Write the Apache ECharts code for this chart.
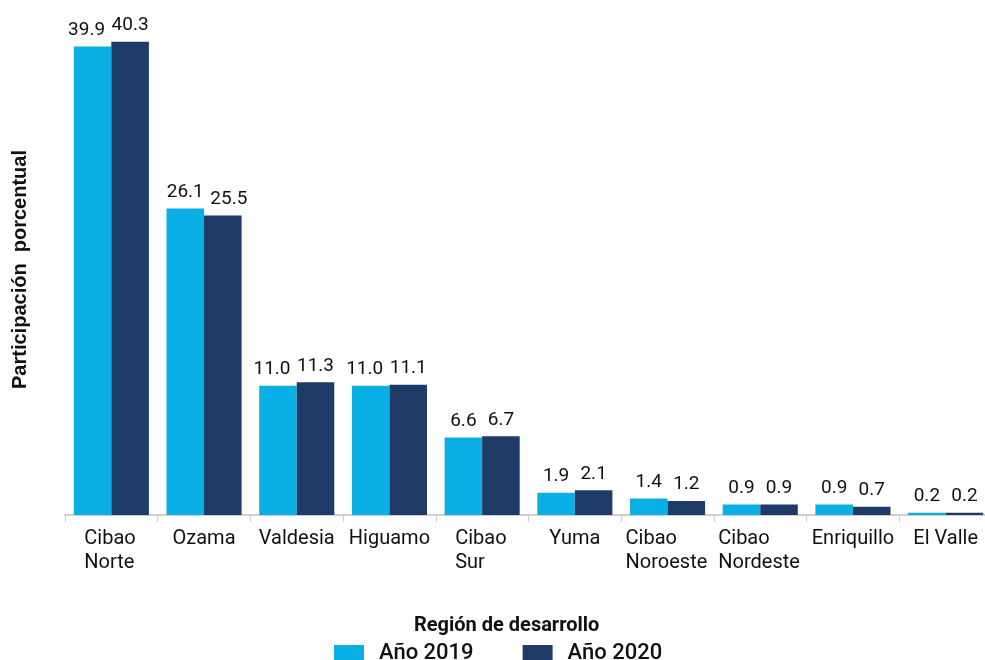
<!DOCTYPE html>
<html>
<head>
<meta charset="utf-8">
<script src="https://cdn.jsdelivr.net/npm/echarts@6/dist/echarts.min.js"></script>
<style>
  html, body { margin: 0; padding: 0; background: #fff; }
  #main { width: 985px; height: 660px; }
</style>
</head>
<body>
<div id="main"></div>
<script>
var regiones = ['Cibao\nNorte', 'Ozama', 'Valdesia', 'Higuamo', 'Cibao\nSur', 'Yuma', 'Cibao\nNoroeste', 'Cibao\nNordeste', 'Enriquillo', 'El Valle'];
var anio2019 = [39.9, 26.1, 11.0, 11.0, 6.6, 1.9, 1.4, 0.9, 0.9, 0.2];
var anio2020 = [40.3, 25.5, 11.3, 11.1, 6.7, 2.1, 1.2, 0.9, 0.7, 0.2];
var nombres = ['Año 2019', 'Año 2020'];

// medir texto para alinear a la izquierda las etiquetas de dos lineas
var ctx = document.createElement('canvas').getContext('2d');
ctx.font = '20px Roboto';
function anchoMax(lineas) {
    var w = 0;
    lineas.forEach(function (l) { w = Math.max(w, ctx.measureText(l).width); });
    return Math.ceil(w) + 2;
}

// las etiquetas de dos cifras se tocan: se aparta la de la barra mas baja
function conEtiqueta(valores, otros, lado) {
    return valores.map(function (v, i) {
        var dx = 0;
        if (v >= 10 && v < otros[i]) dx = lado * 6;
        return { value: v, label: { offset: [dx, 0] } };
    });
}

var etiqueta = {
    show: true,
    position: 'top',
    distance: 7,
    color: '#111',
    fontFamily: 'Roboto',
    fontSize: 19,
    formatter: function (p) { return p.value.toFixed(1); }
};

var option = {
    animation: false,
    backgroundColor: '#fff',
    title: {
        text: 'Región de desarrollo',
        left: 409,
        top: 611,
        textStyle: { fontFamily: 'Roboto', fontWeight: 'bold', fontSize: 20, color: '#111' }
    },
    legend: {
        data: nombres,
        top: 642,
        left: 334,
        itemWidth: 30,
        itemHeight: 16,
        itemGap: 49,
        icon: 'rect',
        padding: 0,
        textStyle: { fontFamily: 'Roboto', fontSize: 22, fontWeight: 500, color: '#111', padding: [0, 0, 0, 10] }
    },
    grid: {
        left: 65,
        right: -7,
        top: 10,
        bottom: 145,
        outerBoundsMode: 'none'
    },
    xAxis: {
        type: 'category',
        data: regiones,
        axisLine: { lineStyle: { color: '#cfcfcf', width: 2 } },
        axisTick: { show: true, length: 7, lineStyle: { color: '#cfcfcf' } },
        axisLabel: {
            interval: 0,
            margin: 12,
            color: '#111',
            fontFamily: 'Roboto',
            fontSize: 20,
            lineHeight: 24,
            verticalAlign: 'top',
            formatter: function (v) {
                var lineas = v.split('\n');
                if (lineas.length === 1) return v;
                var w = anchoMax(lineas);
                return lineas.map(function (l) {
                    return '{a' + w + '|' + l + '}';
                }).join('\n');
            },
            rich: (function () {
                var r = {};
                regiones.forEach(function (v) {
                    var lineas = v.split('\n');
                    if (lineas.length > 1) {
                        var w = anchoMax(lineas);
                        r['a' + w] = {
                            width: w, align: 'left', fontFamily: 'Roboto',
                            fontSize: 20, lineHeight: 24, color: '#111'
                        };
                    }
                });
                return r;
            })()
        }
    },
    yAxis: {
        type: 'value',
        min: 0,
        max: 43,
        name: 'Participación  porcentual',
        nameLocation: 'middle',
        nameGap: 35,
        nameTextStyle: {
            fontFamily: 'Liberation Sans', fontWeight: 'bold', fontSize: 20, color: '#111',
            padding: [0, 14, 0, 0]
        },
        axisLine: { show: false },
        axisTick: { show: false },
        axisLabel: { show: false },
        splitLine: { show: false }
    },
    series: [
        {
            name: nombres[0],
            type: 'bar',
            data: conEtiqueta(anio2019, anio2020, -1),
            barGap: '0%',
            barCategoryGap: '19%',
            itemStyle: { color: '#0aafe6' },
            label: etiqueta
        },
        {
            name: nombres[1],
            type: 'bar',
            data: conEtiqueta(anio2020, anio2019, 1),
            itemStyle: { color: '#1e3a67' },
            label: etiqueta
        }
    ]
};

var myChart = echarts.init(document.getElementById('main'));
myChart.setOption(option);
</script>
</body>
</html>
